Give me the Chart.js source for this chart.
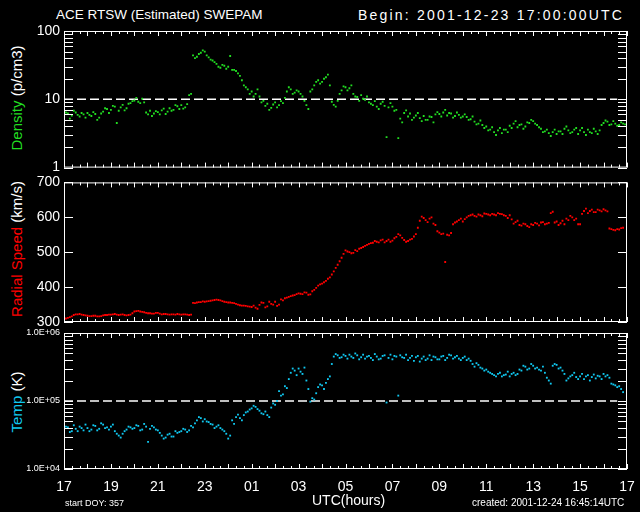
<!DOCTYPE html>
<html>
<head>
<meta charset="utf-8">
<title>ACE RTSW (Estimated) SWEPAM</title>
<script src="https://cdn.jsdelivr.net/npm/chart.js@4.4.1/dist/chart.umd.min.js"></script>
<style>
body { margin:0; background:#000; }
#wrap { position:relative; width:640px; height:512px; background:#000; overflow:hidden; font-family:"Liberation Sans", Arial, sans-serif; color:#fff; }
canvas { position:absolute; left:0; }
.txt { position:absolute; white-space:nowrap; line-height:1; }
.rot { position:absolute; white-space:nowrap; font-size:15px; line-height:1; transform:translate(-50%,-50%) rotate(-90deg); }
</style>
</head>
<body>
<div id="wrap">
  <div class="txt" style="left:56px;top:8px;font-size:13.5px;">ACE RTSW (Estimated) SWEPAM</div>
  <div class="txt" style="left:358px;top:8px;font-size:14px;letter-spacing:2.2px;">Begin: 2001-12-23 17:00:00UTC</div>

  <div class="rot" style="left:16px;top:98px;"><span style="color:#22dd22">Density</span> (p/cm3)</div>
  <div class="rot" style="left:16px;top:249px;"><span style="color:#ff0000">Radial Speed</span> (km/s)</div>
  <div class="rot" style="left:16px;top:402px;"><span style="color:#10c8f0">Temp</span> (K)</div>

  <canvas id="panel1" width="640" height="180" style="top:0px"></canvas>
  <canvas id="panel2" width="640" height="165" style="top:170px"></canvas>
  <canvas id="panel3" width="640" height="192" style="top:320px"></canvas>

  <div class="txt" style="left:65px;top:499px;font-size:9px;">start DOY: 357</div>
  <div class="txt" style="left:312px;top:493px;font-size:14px;">UTC(hours)</div>
  <div class="txt" style="left:472px;top:498px;font-size:10px;">created: 2001-12-24 16:45:14UTC</div>
</div>
<script>
// Tid i minutt etter 2001-12-23 17:00 UTC
var minutt = [0,10,20,30,40,50,60,70,80,90,100,110,120,130,140,150,160,170,180,190,200,210,220,230,240,250,260,270,280,290,
  300,310,320,330,340,350,360,370,380,390,400,410,420,430,440,450,460,470,480,490,500,510,520,530,540,550,560,570,580,590,
  600,610,620,630,640,650,660,670,680,690,700,710,720,730,740,750,760,770,780,790,800,810,820,830,840,850,860,870,880,890,
  900,910,920,930,940,950,960,970,980,990,1000,1010,1020,1030,1040,1050,1060,1070,1080,1090,1100,1110,1120,1130,1140,1150,1160,1170,1180,1190,
  1200,1210,1220,1230,1240,1250,1260,1270,1280,1290,1300,1310,1320,1330,1340,1350,1360,1370,1380,1390,1400,1410,1420,1430,1440];
// Mellompunkt (5 minutt forskyvd)
var minutt2 = [5,15,25,35,45,55,65,75,85,95,105,115,125,135,145,155,165,175,185,195,205,215,225,235,245,255,265,275,285,295,
  305,315,325,335,345,355,365,375,385,395,405,415,425,435,445,455,465,475,485,495,505,515,525,535,545,555,565,575,585,595,
  605,615,625,635,645,655,665,675,685,695,705,715,725,735,745,755,765,775,785,795,805,815,825,835,845,855,865,875,885,895,
  905,915,925,935,945,955,965,975,985,995,1005,1015,1025,1035,1045,1055,1065,1075,1085,1095,1105,1115,1125,1135,1145,1155,1165,1175,1185,1195,
  1205,1215,1225,1235,1245,1255,1265,1275,1285,1295,1305,1315,1325,1335,1345,1355,1365,1375,1385,1395,1405,1415,1425,1435];

// Tettleik (p/cm3)
var tettleik = [5.5,6.2,5.8,6.4,5.6,6.0, 6.3,5.7,6.1,5.4,6.6,7.2, 7.0,7.8,6.8,8.3,7.4,8.8, 9.6,9.2,10.2,6.4,6.8,6.2,
  6.5,6.9,6.1,7.4,7.0,7.9, 8.2,7.6,11.5,44,42,48, 50,41,37,33,29,31, 30,27,26,22,16,14, 13,12,11,9.5,8.6,7.5,
  9.0,8.2,8.8,13,14,12.5, 13,11,8.2,13,16,19, 18,21,16,8.3,9.5,13.5, 15,14.5,12,10.8,11.5,9.8, 9.0,8.2,7.8,8.6,8.0,7.6,
  7.8,7.0,5.2,6.3,5.6,5.0, 5.8,5.3,5.7,5.0,5.5,6.0, 6.1,6.4,5.8,6.2,5.7,5.9, 5.6,5.5,5.1,4.7,4.4,4.2,
  4.0,3.6,3.3,3.5,3.2,3.6, 4.1,4.4,3.9,4.3,4.0,4.5, 4.8,4.2,3.7,3.4,3.2,3.3, 3.1,3.4,3.7,3.5,3.3,3.8,
  3.5,3.3,3.6,3.2,3.4,3.5, 4.5,4.7,4.3,4.4,4.2,4.4, null];
var tettleik2 = [6.4,5.2,6.8,5.9,6.3,5.4, 5.9,6.5,5.0,6.2,7.4,6.3, 8.0,4.5,7.6,6.9,8.6,9.4, 10.5,8.8,9.0,6.0,5.7,6.7,
  6.0,7.3,6.6,6.8,8.2,7.2, 7.3,8.5,12.0,40,46,52, 44,38,35,30,32,28, 43,27,24,19,15,12, 11,14,9.0,8.0,7.0,8.4,
  7.6,9.4,10.5,15,12,13.5, 12,9.5,7.2,14,18,17, 20,23,9.2,7.8,12,15.5, 13.5,16,11,9.5,10.2,11, 8.6,9.4,7.2,9.2,2.8,8.8,
  6.8,2.7,4.6,6.9,6.2,5.4, 6.3,4.8,5.0,5.6,4.6,6.5, 5.6,7.0,6.3,5.4,6.4,5.4, 6.0,5.0,5.6,4.3,4.9,3.8,
  3.5,3.9,3.0,3.8,3.6,3.3, 3.8,4.8,4.2,3.7,4.6,5.0, 4.4,3.9,3.3,3.6,2.9,3.6, 3.4,3.1,4.0,3.2,3.6,3.1,
  3.8,3.0,3.3,3.7,3.1,4.2, 4.9,4.2,4.8,4.1,4.6,4.3];

// Radialfart (km/s)
var fart = [308,312,316,322,323,320, 318,317,318,316,319,320, 321,323,320,322,319,321, 330,332,329,326,325,324,
  326,322,323,321,322,323, 321,322,320,355,356,357, 358,360,362,364,362,358, 356,355,352,348,347,345, 343,341,349,355,345,352,
  358,350,362,370,374,377, 382,380,384,379,392,404, 410,418,428,445,464,484, 505,500,498,503,512,518, 524,527,530,534,528,536,
  533,544,548,535,532,538, 552,590,598,586,600,578, 556,553,550,555,585,592, 588,600,606,604,608,603,
  610,606,608,612,609,604, 606,582,590,576,580,572, 578,582,585,580,584,616, 588,583,580,592,600,596,
  580,618,612,622,615,620, 623,617,566,563,565,570, null];
var fart2 = [310,314,320,322,321,319, 317,318,316,317,320,321, 322,321,321,320,320,325, 331,330,328,325,324,326,
  324,323,322,322,321,322, 322,321,321,354,357,359, 359,361,363,363,360,357, 356,354,350,347,346,344, 347,338,356,342,358,350,
  346,365,368,372,376,380, 381,385,378,388,398,408, 414,424,436,455,474,495, 502,497,506,510,515,521, 526,532,528,536,532,530,
  540,552,541,530,536,545, 570,602,592,596,582,560, 552,472,548,580,588,596, 595,604,608,602,606,611,
  608,610,606,610,606,598, 594,586,578,582,575,580, 584,577,586,582,612,585, 578,590,596,604,592,580,
  610,625,618,615,622,617, 620,568,564,566,569,null];

// Temperatur (K)
var temp = [38000,41000,36000,39000,42000,37000, 40000,38000,43000,39000,45000,41000, 42000,36000,31000,33000,38000,41000,
  40000,43000,38000,42000,39000,41000, 37000,31000,29000,33000,30000,34000, 36000,38000,37000,41000,52000,56000,
  54000,49000,45000,42000,40000,36000, 28000,52000,58000,56000,62000,70000, 78000,82000,72000,64000,62000,80000,
  88000,140000,125000,155000,260000,280000, 300000,250000,200000,98000,105000,160000, 170000,185000,230000,450000,470000,440000,
  460000,480000,430000,470000,440000,420000, 460000,400000,450000,420000,470000,430000, 410000,450000,470000,430000,400000,460000,
  440000,380000,450000,420000,400000,440000, 410000,460000,430000,470000,440000,420000, 430000,400000,390000,320000,340000,300000,
  290000,260000,240000,250000,230000,245000, 230000,260000,250000,280000,320000,300000, 330000,310000,280000,260000,200000,330000,
  340000,310000,250000,215000,240000,225000, 230000,210000,240000,225000,215000,230000, 250000,240000,180000,170000,165000,135000, null];
var temp2 = [42000,35000,44000,36000,40000,45000, 36000,44000,37000,47000,40000,38000, 45000,33000,29000,36000,42000,39000,
  44000,37000,46000,25000,43000,38000, 34000,28000,32000,30000,36000,35000, 39000,35000,43000,47000,58000,50000,
  50000,46000,40000,44000,38000,33000, 31000,46000,63000,52000,68000,75000, 85000,76000,66000,70000,58000,92000,
  100000,120000,165000,210000,300000,240000, 270000,310000,150000,110000,130000,175000, 150000,210000,350000,490000,430000,480000,
  420000,450000,500000,410000,480000,450000, 430000,490000,410000,460000,95000,480000, 460000,120000,440000,480000,430000,390000,
  460000,420000,400000,470000,450000,410000, 450000,400000,480000,420000,460000,400000, 450000,420000,350000,360000,310000,280000,
  270000,250000,230000,260000,240000,270000, 250000,240000,290000,330000,290000,350000, 300000,290000,320000,220000,180000,350000,
  300000,280000,200000,230000,260000,210000, 250000,230000,200000,245000,235000,210000, 230000,220000,175000,160000,150000,null];

// Aksemerke
var xTicks = [0,120,240,360,480,600,720,840,960,1080,1200,1320,1440];
var xTickLabels = ['17','19','21','23','01','03','05','07','09','11','13','15','17'];
var tettTicks = [1,10,100], tettLabels = ['1','10','100'];
var fartTicks = [300,400,500,600,700], fartLabels = ['300','400','500','600','700'];
var tempTicks = [1e4,1e5,1e6], tempLabels = ['1.0E+04','1.0E+05','1.0E+06'];
var tettStipla = 10, tempStipla = 1e5;
var stiplaX = [0,1415];

var fontNamn = '"Liberation Sans", Arial, sans-serif';

function gel(id){
  return document.getElementById(id);
}

function logMerke(lo, hi) {
  var m = [];
  for (var d = lo; d < hi; d *= 10) {
    for (var k = 1; k < 10; k++) m.push(d * k);
  }
  m.push(hi);
  return m;
}

// Ramme og innovervende merke
var rammePlugin = {
  id: 'ramme',
  afterDatasetsDraw: function(chart, args, opts) {
    var ctx = chart.ctx, a = chart.chartArea;
    var xs = chart.scales.x, ys = chart.scales.y;
    ctx.save();
    ctx.strokeStyle = '#fff';
    ctx.lineWidth = 1;
    ctx.beginPath();
    for (var m = 0; m <= 1440; m += 20) {
      var px = Math.round(xs.getPixelForValue(m)) + 0.5;
      var len = (m % 60 == 0) ? 5 : 3;
      ctx.moveTo(px, a.top); ctx.lineTo(px, a.top + len);
      ctx.moveTo(px, a.bottom); ctx.lineTo(px, a.bottom - len);
    }
    opts.yMerke.forEach(function(v) {
      var py = Math.round(ys.getPixelForValue(v)) + 0.5;
      ctx.moveTo(a.left, py); ctx.lineTo(a.left + 9, py);
      ctx.moveTo(a.right, py); ctx.lineTo(a.right - 9, py);
    });
    ctx.stroke();
    ctx.strokeRect(a.left + 0.5, a.top + 0.5, a.right - a.left - 1, a.bottom - a.top - 1);
    ctx.restore();
  }
};

function punkt(tider, verdiar, farge) {
  return {
    data: tider.map(function(m, i) { return {x: m, y: verdiar[i]}; }),
    pointStyle: 'rect',
    pointRadius: 1.3,
    pointBorderWidth: 0,
    backgroundColor: farge,
    borderColor: farge
  };
}

function lagPanel(id, verdiar, verdiar2, farge, yAkse, yMerke, stipla, visX, pad) {
  var datasets = [punkt(minutt, verdiar, farge), punkt(minutt2, verdiar2, farge)];
  if (stipla != null) {
    datasets.push({
      data: [{x: stiplaX[0], y: stipla}, {x: stiplaX[1], y: stipla}],
      showLine: true,
      pointRadius: 0,
      borderColor: '#fff',
      borderWidth: 1.5,
      borderDash: [9, 4]
    });
  }
  return new Chart(gel(id).getContext('2d'), {
    type: 'scatter',
    data: { datasets: datasets },
    options: {
      responsive: false,
      animation: false,
      events: [],
      layout: { padding: pad },
      plugins: {
        legend: { display: false },
        tooltip: { enabled: false },
        ramme: { yMerke: yMerke }
      },
      scales: {
        x: {
          type: 'linear',
          min: 0,
          max: 1440,
          display: visX,
          grid: { display: false },
          border: { display: false },
          afterBuildTicks: function(s) { s.ticks = xTicks.map(function(v) { return {value: v}; }); },
          afterFit: function(s) { s.height = visX ? 43 : 0; },
          ticks: {
            color: '#fff',
            autoSkip: false,
            maxRotation: 0,
            padding: 2,
            font: { family: fontNamn, size: 14 },
            callback: function(v, i) { return xTickLabels[i]; }
          }
        },
        y: yAkse
      }
    },
    plugins: [rammePlugin]
  });
}

function yOppsett(type, min, max, ticks, labels, fontSize) {
  return {
    type: type,
    min: min,
    max: max,
    grid: { display: false, drawTicks: false },
    border: { display: false },
    afterBuildTicks: function(s) { s.ticks = ticks.map(function(v) { return {value: v}; }); },
    afterFit: function(s) { s.width = 64; },
    ticks: {
      color: '#fff',
      autoSkip: false,
      padding: 4,
      font: { family: fontNamn, size: fontSize },
      callback: function(v, i) { return labels[i]; }
    }
  };
}

lagPanel('panel1', tettleik, tettleik2, '#22dd22',
  yOppsett('logarithmic', 1, 100, tettTicks, tettLabels, 14),
  logMerke(1, 100), tettStipla, false, {top: 31, bottom: 12, left: 0, right: 13});

lagPanel('panel2', fart, fart2, '#ff0000',
  yOppsett('linear', 300, 700, fartTicks, fartLabels, 14),
  fartTicks, null, false, {top: 9, bottom: 13, left: 0, right: 13});

lagPanel('panel3', temp, temp2, '#10c8f0',
  yOppsett('logarithmic', 1e4, 1e6, tempTicks, tempLabels, 9),
  logMerke(1e4, 1e6), tempStipla, true, {top: 13, bottom: 0, left: 0, right: 13});
</script>
</body>
</html>
